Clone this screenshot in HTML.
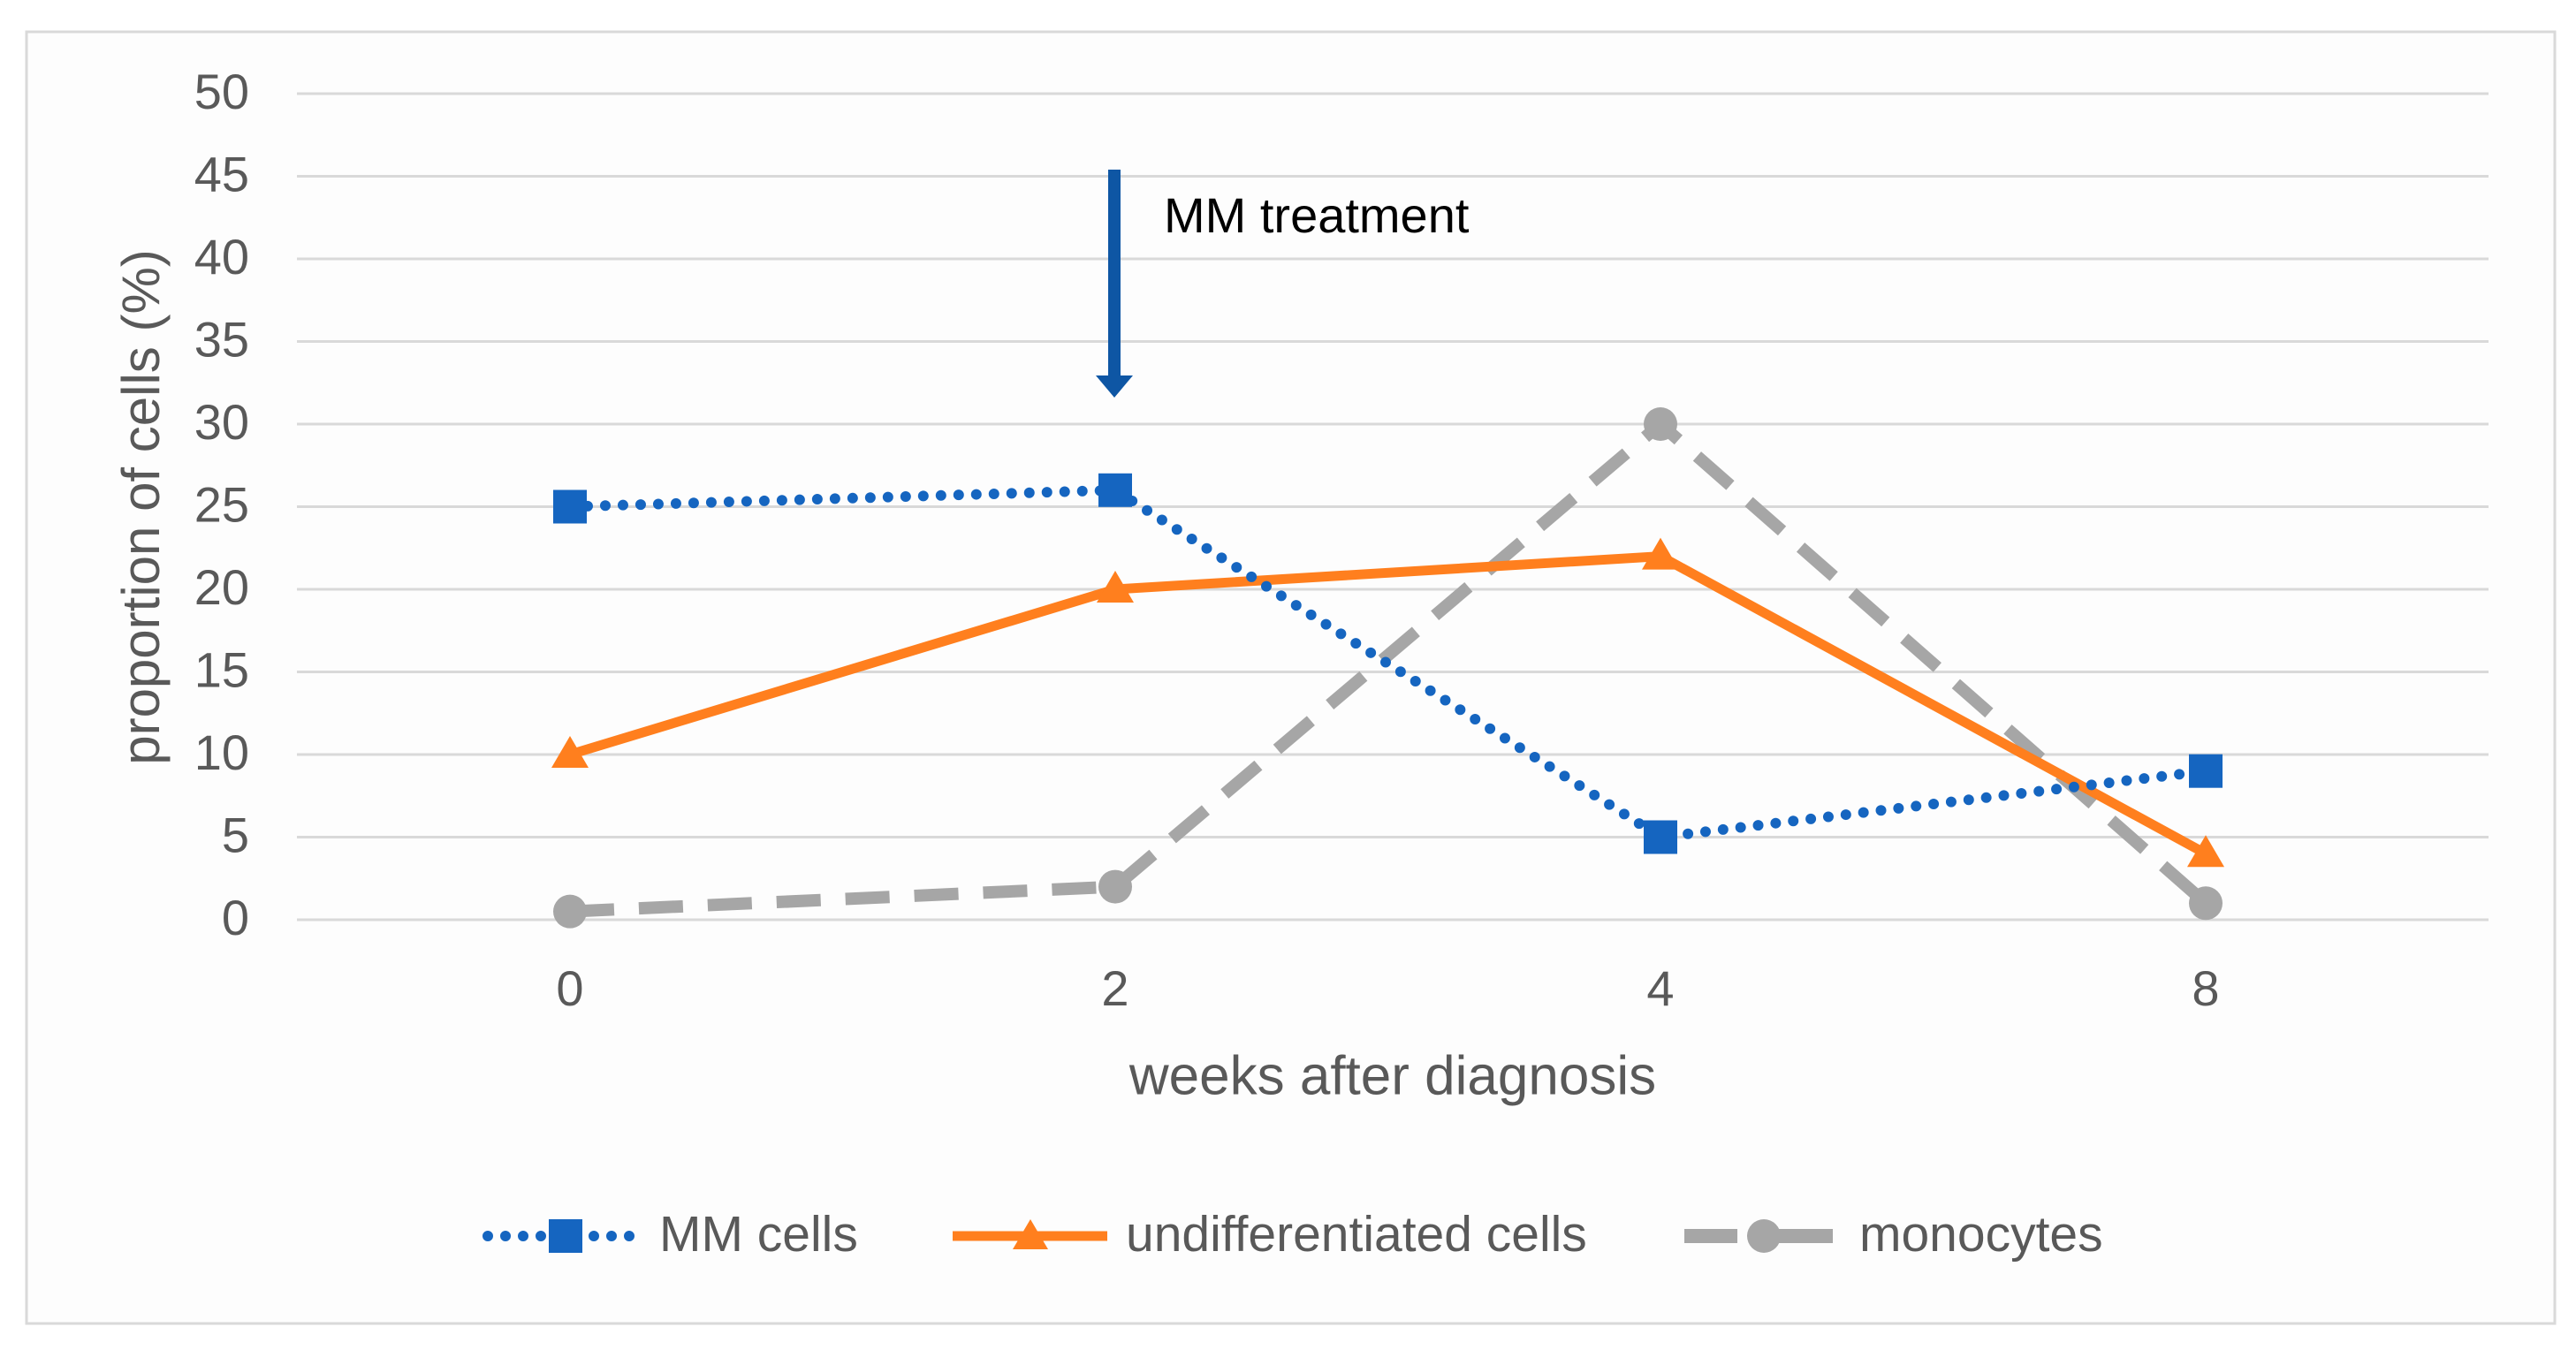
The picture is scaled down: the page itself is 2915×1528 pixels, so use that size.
<!DOCTYPE html>
<html><head><meta charset="utf-8"><style>
html,body{margin:0;padding:0;background:#fff;}
svg{display:block;font-family:"Liberation Sans",sans-serif;}
</style></head><body>
<svg id="chart" width="2915" height="1528" viewBox="0 0 2915 1528" xmlns="http://www.w3.org/2000/svg">
<rect x="30" y="36" width="2861" height="1462" fill="#fdfdfd" stroke="#d9d9d9" stroke-width="3"/>
<g id="grid"></g>
<g id="yticks"></g>
<g id="xticks"></g>
<text x="164" y="574" transform="rotate(-90 164 574)" text-anchor="middle" dominant-baseline="middle" font-size="60" fill="#595959">proportion of cells (%)</text>
<text x="1576" y="1222" text-anchor="middle" dominant-baseline="middle" font-size="62" fill="#595959">weeks after diagnosis</text>
<g>
<line x1="1261" y1="192" x2="1261" y2="432" stroke="#0e56a4" stroke-width="14"/>
<polygon points="1240,425 1282,425 1261,450" fill="#0e56a4"/>
<text x="1317" y="248" dominant-baseline="middle" font-size="56" fill="#000">MM treatment</text>
</g>
<g id="series"></g>
<g>
<g>
<line x1="552" y1="1399" x2="718" y2="1399" stroke="#1565c0" stroke-width="12" stroke-linecap="round" stroke-dasharray="0 20"/>
<rect x="621" y="1380" width="38" height="38" fill="#1565c0"/>
<text x="746" y="1401" dominant-baseline="middle" font-size="57" fill="#595959">MM cells</text>
</g>
<g>
<line x1="1078" y1="1399" x2="1253" y2="1399" stroke="#ff7f1e" stroke-width="11"/>
<polygon points="1166,1380 1186,1414 1146,1414" fill="#ff7f1e"/>
<text x="1274" y="1401" dominant-baseline="middle" font-size="57" fill="#595959">undifferentiated cells</text>
</g>
<g>
<line x1="1906" y1="1399" x2="1966" y2="1399" stroke="#a6a6a6" stroke-width="16"/>
<line x1="2010" y1="1399" x2="2074" y2="1399" stroke="#a6a6a6" stroke-width="16"/>
<circle cx="1996" cy="1399" r="19" fill="#a6a6a6"/>
<text x="2104" y="1401" dominant-baseline="middle" font-size="57" fill="#595959">monocytes</text>
</g>
</g>
</svg>
<script>
const categories = ["0","2","4","8"];
const mmCells = [25,26,5,9];
const undiffCells = [10,20,22,4];
const monocytes = [0.5,2,30,1];
const yTicks = [0,5,10,15,20,25,30,35,40,45,50];
const NS="http://www.w3.org/2000/svg";
const x0=645, dx=617, y0=1041, yTop=106, yMax=50;
function xs(i){return x0+i*dx;}
function ys(v){return y0-(v/yMax)*(y0-yTop);}
function mk(tag,attrs,parent){const e=document.createElementNS(NS,tag);for(const k in attrs)e.setAttribute(k,attrs[k]);parent.appendChild(e);return e;}
const grid=document.getElementById('grid'),yt=document.getElementById('yticks'),xt=document.getElementById('xticks'),ser=document.getElementById('series');
yTicks.forEach(v=>{
 const l=mk('line',{x1:336,x2:2816,y1:ys(v),y2:ys(v),stroke:'#d9d9d9','stroke-width':3},grid);
 
 
 const t=mk('text',{x:282,y:ys(v)+2,'text-anchor':'end','dominant-baseline':'middle','font-size':56,fill:'#595959'},yt);
 t.textContent=v;
 
 
});
categories.forEach((c,i)=>{
 const t=mk('text',{x:xs(i),y:1123,'text-anchor':'middle','dominant-baseline':'middle','font-size':56,fill:'#595959'},xt);
 t.textContent=c;
 
 
});
function pts(arr){return arr.map((v,i)=>xs(i)+','+ys(v)).join(' ');}
let p=mk('polyline',{points:pts(monocytes),fill:'none',stroke:'#a6a6a6','stroke-width':14,'stroke-dasharray':'50 28'},ser);


monocytes.forEach((v,i)=>{const c=mk('circle',{cx:xs(i),cy:ys(v),r:19,fill:'#a6a6a6'},ser);
 
 });
p=mk('polyline',{points:pts(undiffCells),fill:'none',stroke:'#ff7f1e','stroke-width':11,'stroke-linejoin':'round'},ser);


undiffCells.forEach((v,i)=>{const x=xs(i),y=ys(v);const t=mk('polygon',{points:`${x},${y-21} ${x+21},${y+15} ${x-21},${y+15}`,fill:'#ff7f1e'},ser);
 
 });
p=mk('polyline',{points:pts(mmCells),fill:'none',stroke:'#1565c0','stroke-width':12,'stroke-linecap':'round','stroke-dasharray':'0 20'},ser);


mmCells.forEach((v,i)=>{const r=mk('rect',{x:xs(i)-19,y:ys(v)-19,width:38,height:38,fill:'#1565c0'},ser);
 
 });
</script>
</body></html>
